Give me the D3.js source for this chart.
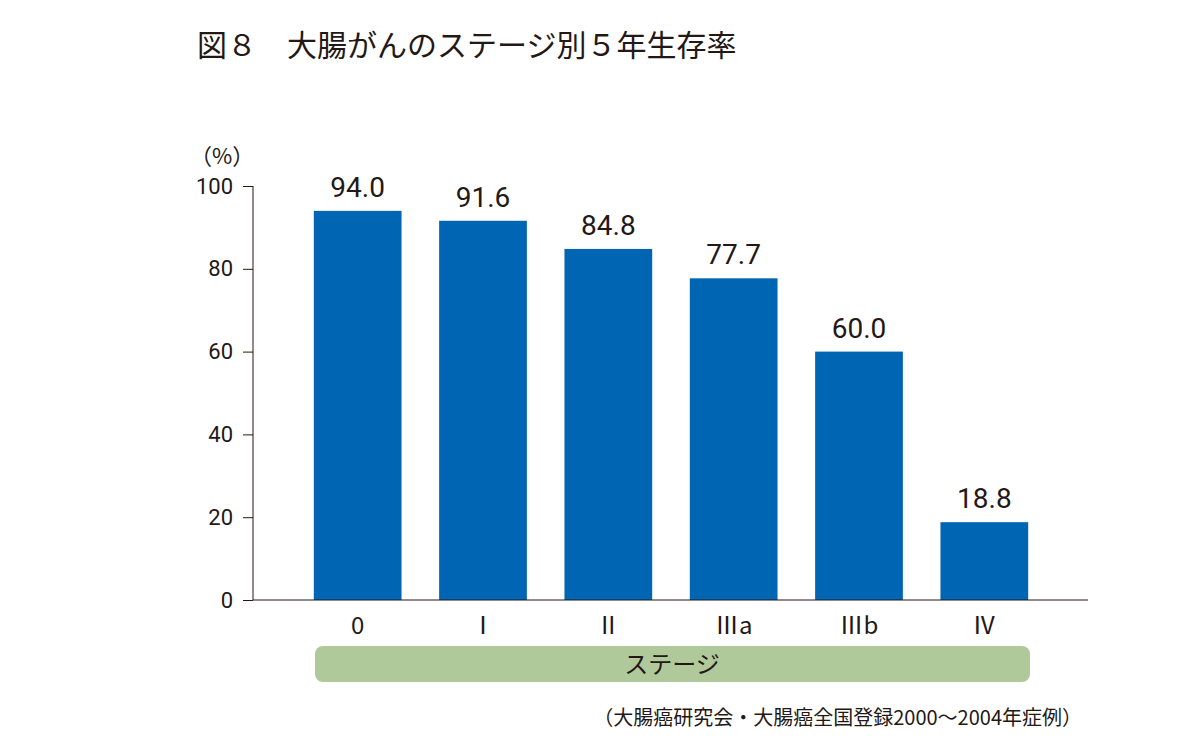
<!DOCTYPE html>
<html><head><meta charset="utf-8">
<script src="https://cdn.jsdelivr.net/npm/d3@7"></script>
<style>body{margin:0;background:#fff}svg{font-family:"Noto Sans CJK JP","Noto Sans",sans-serif}</style>
</head><body><svg id="c" width="1200" height="756"></svg>
<script>
const categories=["0","Ⅰ","Ⅱ","Ⅲa","Ⅲb","Ⅳ"];
const values=[94.0,91.6,84.8,77.7,60.0,18.8];
const yTicks=[0,20,40,60,80,100];
const svg=d3.select("#c");
const x=d3.scaleBand().domain(categories).range([295,1047]).paddingInner(0.3).paddingOuter(0.15);
const y=d3.scaleLinear().domain([0,100]).range([600,186]);
svg.append("text").attr("x",197).attr("y",56).attr("font-size",30).attr("fill","#231815").text("図８　大腸がんのステージ別５年生存率");
svg.append("text").attr("x",190).attr("y",164).attr("font-size",22).attr("fill","#231815").text("（%）");
svg.selectAll("rect.bar").data(values).join("rect").attr("class","bar")
 .attr("x",(d,i)=>x(categories[i])).attr("width",x.bandwidth())
 .attr("y",d=>y(d)).attr("height",d=>y(0)-y(d)).attr("fill","#0066b3");
svg.selectAll("text.val").data(values).join("text").attr("class","val")
 .attr("x",(d,i)=>x(categories[i])+x.bandwidth()/2).attr("y",d=>y(d)-14)
 .attr("text-anchor","middle").attr("font-size",28).attr("font-family","Roboto, sans-serif").attr("fill","#231815").text(d=>d.toFixed(1));
const ya=svg.append("g").attr("transform","translate(253,0)").call(d3.axisLeft(y).tickValues(yTicks).tickSize(10).tickPadding(10));
ya.selectAll("text").attr("font-size",22).attr("font-family","Roboto, sans-serif").attr("fill","#231815");
ya.selectAll("line,path").attr("stroke","#231815");
ya.select("path").attr("d","M0,600V186");
svg.append("line").attr("x1",253).attr("x2",1088).attr("y1",600).attr("y2",600).attr("stroke","#231815");
svg.selectAll("text.cat").data(categories).join("text").attr("class","cat")
 .attr("x",d=>x(d)+x.bandwidth()/2).attr("y",634).attr("text-anchor","middle").attr("font-size",24).attr("fill","#231815").text(d=>d);
svg.append("rect").attr("x",315).attr("y",646).attr("width",715).attr("height",36).attr("rx",8).attr("fill","#b0c99a");
svg.append("text").attr("x",672).attr("y",673).attr("text-anchor","middle").attr("font-size",24).attr("fill","#231815").text("ステージ");
svg.append("text").attr("x",1082).attr("y",725).attr("text-anchor","end").attr("font-size",20).attr("fill","#231815").text("（大腸癌研究会・大腸癌全国登録2000～2004年症例）");
</script></body></html>
